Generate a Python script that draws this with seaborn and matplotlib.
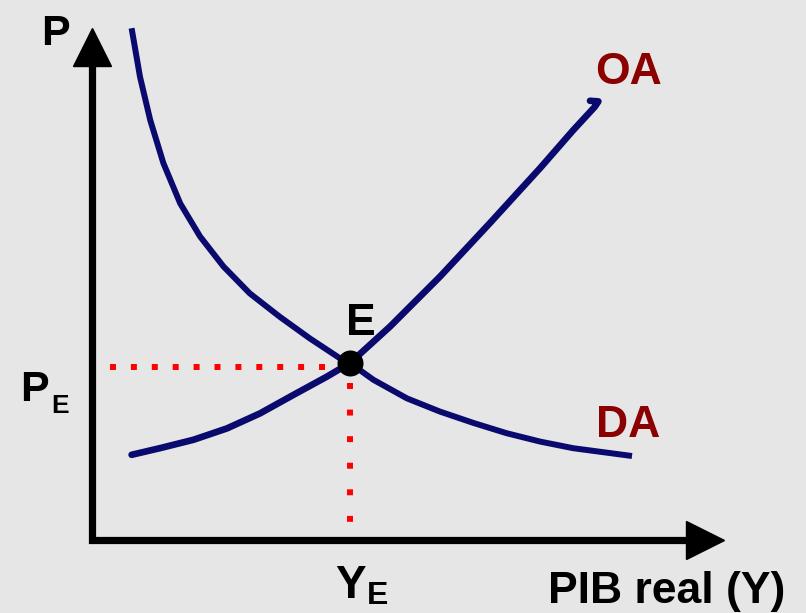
import numpy as np
import matplotlib.pyplot as plt
import seaborn as sns
import pandas as pd

# curve points (Y = real GDP, P = price level)
da_y = [0.66, 0.80, 0.97, 1.19, 1.47, 1.80, 2.19, 2.63, 3.13, 3.63, 4.13, 4.30,
        4.69, 5.25, 5.80, 6.36, 6.91, 7.47, 8.02, 9.00]
da_p = [8.53, 7.72, 7.00, 6.28, 5.61, 5.06, 4.56, 4.11, 3.72, 3.36, 3.03, 2.95,
        2.67, 2.36, 2.14, 1.95, 1.78, 1.64, 1.53, 1.40]
oa_y = [0.66, 1.13, 1.69, 2.25, 2.80, 3.36, 3.91, 4.30, 4.97, 5.80, 6.63, 7.47,
        8.02, 8.38, 8.44, 8.30]
oa_p = [1.42, 1.53, 1.67, 1.86, 2.11, 2.42, 2.72, 2.95, 3.56, 4.39, 5.28, 6.20,
        6.83, 7.22, 7.31, 7.32]
eq_y = [4.30]
eq_p = [2.95]

df_da = pd.DataFrame({'Y': da_y, 'P': da_p})
df_oa = pd.DataFrame({'Y': oa_y, 'P': oa_p})
df_eq = pd.DataFrame({'Y': eq_y, 'P': eq_p})

sns.set_theme(style='white')
plt.rcParams['font.family'] = ['Liberation Sans', 'DejaVu Sans']
plt.rcParams['font.weight'] = 'bold'
plt.rcParams['text.color'] = 'black'

bg = '#e6e6e6'
navy = '#0a0a6e'
darkred = '#8b0000'

fig = plt.figure(figsize=(8.06, 6.13), dpi=100, facecolor=bg)
ax = fig.add_axes([0, 0, 1, 1])
ax.set_facecolor(bg)

# axes drawn by hand, with arrow heads
ax.plot([0, 0, 10.21], [8.21, 0, 0], color='black', lw=5.2,
        solid_joinstyle='miter', solid_capstyle='butt', zorder=3)
ax.plot([0], [8.21], marker='^', ms=28, color='black', zorder=3)
ax.plot([10.21], [0], marker='>', ms=28, color='black', zorder=3)

# guide lines to the equilibrium
ax.plot([0.3, eq_y[0] - 0.25], [eq_p[0] - 0.07, eq_p[0] - 0.07], color='red', lw=4.3,
        linestyle=(0, (1, 2.5)), dash_capstyle='butt', zorder=2)
ax.plot([eq_y[0], eq_y[0]], [eq_p[0] - 0.33, 0.28], color='red', lw=4.3,
        linestyle=(0, (1, 3.45)), dash_capstyle='butt', zorder=2)

sns.lineplot(data=df_da, x='Y', y='P', sort=False, color=navy, lw=4.3,
             solid_capstyle='butt', solid_joinstyle='round', ax=ax, zorder=4)
sns.lineplot(data=df_oa, x='Y', y='P', sort=False, color=navy, lw=4.8,
             solid_capstyle='round', solid_joinstyle='round', ax=ax, zorder=4)
sns.scatterplot(data=df_eq, x='Y', y='P', s=300, color='black',
                edgecolor='black', ax=ax, zorder=5)

ax.text(-0.85, 8.25, 'P', fontsize=31, fontweight='bold', ha='left', va='baseline')
ax.text(8.38, 7.60, 'OA', fontsize=32, fontweight='bold', color=darkred, ha='left', va='baseline')
ax.text(8.40, 1.72, 'DA', fontsize=32, fontweight='bold', color=darkred, ha='left', va='baseline')
ax.text(4.23, 3.42, 'E', fontsize=32, fontweight='bold', ha='left', va='baseline')
ax.text(-1.19, 2.32, 'P', fontsize=31, fontweight='bold', ha='left', va='baseline')
ax.text(-0.68, 2.12, 'E', fontsize=19, fontweight='bold', ha='left', va='baseline')
ax.text(4.06, -0.97, 'Y', fontsize=33, fontweight='bold', ha='left', va='baseline')
ax.text(4.58, -1.07, 'E', fontsize=23, fontweight='bold', ha='left', va='baseline')
ax.text(7.60, -1.05, 'PIB real (Y)', fontsize=32, fontweight='bold', ha='left', va='baseline')

ax.set_xlim(-92 / 60, (806 - 92) / 60)
ax.set_ylim((540 - 613) / 60, 540 / 60)
ax.set_xlabel('')
ax.set_ylabel('')
ax.axis('off')

fig.savefig('out.png', dpi=100, facecolor=bg)
